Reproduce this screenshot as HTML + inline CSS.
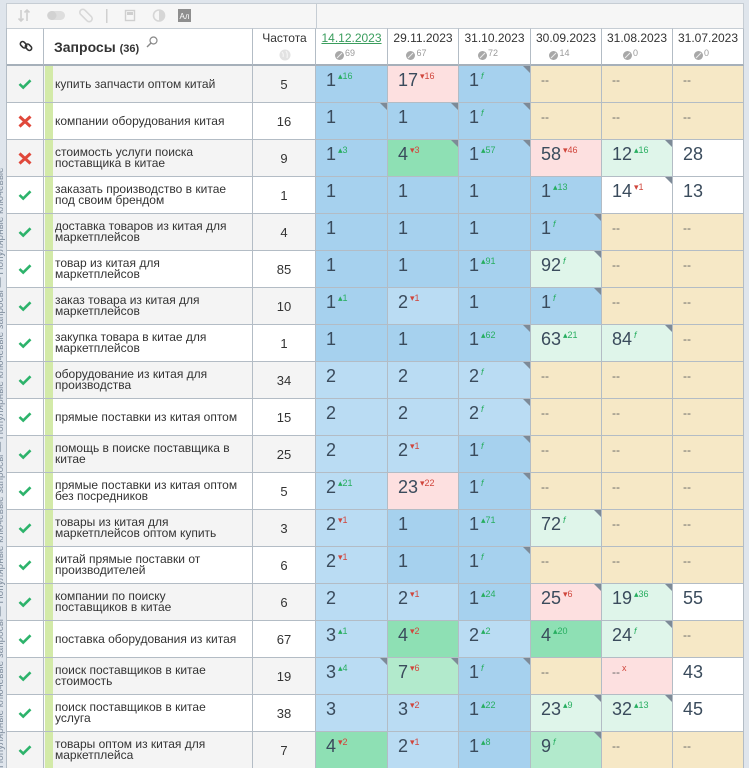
<!DOCTYPE html>
<html>
<head>
<meta charset="utf-8">
<style>
html{margin:0;padding:0;width:749px;height:768px;overflow:hidden;}
body{margin:0;padding:0;width:749px;height:768px;overflow:hidden;background:#dfe5ec;position:relative;font-family:"Liberation Sans","DejaVu Sans",sans-serif;color:#333;}
.strip{position:absolute;left:0;top:30px;width:6px;height:738px;overflow:hidden;}
.strip div{writing-mode:vertical-rl;transform:rotate(180deg);font-size:10px;line-height:10px;color:#8290a0;margin-left:-4px;white-space:nowrap;height:738px;width:10px;overflow:hidden;}
.tb{position:absolute;left:6px;top:3px;width:738px;height:26px;box-sizing:border-box;background:#f6f6f6;border:1px solid #c6cdd4;}
.tbdiv{position:absolute;left:316px;top:3px;width:1px;height:26px;background:#c6cdd4;}
.hdr{position:absolute;left:6px;top:28px;width:738px;height:38px;display:flex;background:#fff;}
.hc{box-sizing:border-box;height:38px;border-right:1px solid #b3bcc5;border-bottom:2px solid #a6b0ba;border-top:1px solid #c6cdd4;position:relative;flex:none;}
.row{position:absolute;left:6px;width:738px;height:37px;display:flex;overflow:hidden;}
.c{box-sizing:border-box;height:37px;border-right:1px solid #b3bcc5;border-bottom:1px solid #b3bcc5;position:relative;flex:none;background:#fff;}
.last .c{height:36px;border-bottom:none;}
.lk{width:38px;display:flex;align-items:center;justify-content:center;}
.q{width:209px;padding-left:11px;display:flex;align-items:center;font-size:12px;line-height:11px;color:#333;}
.q::before{content:"";position:absolute;left:1px;top:0;bottom:0;width:8px;background:#d3eaa8;}
.fr{width:63px;display:flex;align-items:center;justify-content:center;font-size:13px;color:#333;}
.o .lk,.o .q,.o .fr{background:#f4f4f4;}
.row .c:nth-child(n+4),.hdr .hc:nth-child(n+4){width:71px;}
.row .c:nth-child(4),.row .c:nth-child(6),.hdr .hc:nth-child(4),.hdr .hc:nth-child(6){width:72px;}
.row .c:nth-child(n+4){padding:5px 0 0 10px;font-size:18px;line-height:18px;color:#3a4b5c;white-space:nowrap;}
.b1{background:#a6d1ee !important;}
.b2{background:#badcf3 !important;}
.g1{background:#8ee0b4 !important;}
.g2{background:#b2eacc !important;}
.lg{background:#dff5ea !important;}
.p{background:#fde0e0 !important;}
.y{background:#f6e8c6 !important;}
.w{background:#fff !important;}
.t::after{content:"";position:absolute;top:0;right:0;width:0;height:0;border-top:7px solid #7d8a97;border-left:7px solid transparent;}
i{font-style:normal;display:inline-block;vertical-align:top;font-size:9px;line-height:9px;margin-left:2px;position:relative;top:1px;}
i.u{color:#27ae60;}
i.d{color:#d0463c;}
i.f{color:#27ae60;font-style:italic;}
i.x{color:#d0463c;}
.ds{font-size:12px;color:#666;position:relative;top:-2px;}
.dt{position:absolute;left:0;right:0;top:3px;text-align:center;font-size:12px;line-height:12px;color:#333;}
.dt.g{color:#3a9d5d;text-decoration:underline;}
.ic{position:absolute;left:0;right:13px;top:20px;text-align:center;font-size:0;line-height:0;white-space:nowrap;}
.ic b{display:inline-block;width:9px;height:9px;border-radius:50%;background:#a8a8a8;vertical-align:top;margin-top:2px;position:relative;}
.ic b::after{content:"";position:absolute;left:4px;top:1px;width:1px;height:7px;background:#eee;transform:rotate(45deg);}
.ic span{display:inline-block;font-size:9px;line-height:9px;color:#9a9a9a;margin-left:1px;vertical-align:top;}
</style>
</head>
<body>
<div class="strip"><div>Популярные ключевые запросы — Популярные ключевые запросы — Популярные ключевые запросы — Популярные ключевые</div></div>
<div class="tb"></div>
<div class="tbdiv"></div>
<svg style="position:absolute;left:0;top:0" width="316" height="30">
 <g stroke="#cfcfcf" stroke-width="1.6" fill="none">
  <path d="M21 10 L21 21 M18.5 18.5 L21 21 L23.5 18.5"/>
  <path d="M27 21 L27 10 M24.5 12.5 L27 10 L29.5 12.5"/>
 </g>
 <rect x="47" y="11" width="18" height="9" rx="4.5" fill="#dedede"/>
 <circle cx="52" cy="15.5" r="4.5" fill="#d2d2d2"/>
 <g stroke="#d8d8d8" stroke-width="1.6" fill="none">
  <rect x="83" y="8" width="6" height="15" rx="3" transform="rotate(-45 86 15.5)"/>
 </g>
 <rect x="106" y="9" width="1.5" height="14" fill="#d0d0d0"/>
 <rect x="125.5" y="10.5" width="9" height="10" fill="none" stroke="#cfcfcf" stroke-width="1.4"/>
 <rect x="127" y="12" width="6" height="3" fill="#cfcfcf"/>
 <circle cx="159" cy="15.5" r="5.5" fill="none" stroke="#d6d6d6" stroke-width="1.6"/>
 <path d="M159 10 A5.5 5.5 0 0 1 159 21 Z" fill="#d6d6d6"/>
 <rect x="178" y="9" width="13" height="13" fill="#8e8e8e"/>
 <text x="179.5" y="19" font-size="8" fill="#fff" font-family="Liberation Sans, sans-serif">Aл</text>
</svg>

<div class="hdr">
 <div class="hc" style="width:38px"></div>
 <div class="hc" style="width:209px"></div>
 <div class="hc" style="width:63px"></div>
 <div class="hc"><div class="dt g">14.12.2023</div><div class="ic"><b></b><span>69</span></div></div>
 <div class="hc"><div class="dt">29.11.2023</div><div class="ic"><b></b><span>67</span></div></div>
 <div class="hc"><div class="dt">31.10.2023</div><div class="ic"><b></b><span>72</span></div></div>
 <div class="hc"><div class="dt">30.09.2023</div><div class="ic"><b></b><span>14</span></div></div>
 <div class="hc"><div class="dt">31.08.2023</div><div class="ic"><b></b><span>0</span></div></div>
 <div class="hc"><div class="dt">31.07.2023</div><div class="ic"><b></b><span>0</span></div></div>
</div>
<svg style="position:absolute;left:19px;top:39px" width="14" height="14" viewBox="0 0 14 14">
 <g fill="none" stroke="#333" stroke-width="1.6">
  <rect x="1" y="3.5" width="7" height="4.5" rx="2.2" transform="rotate(45 4.5 5.75)"/>
  <rect x="6" y="6" width="7" height="4.5" rx="2.2" transform="rotate(45 9.5 8.25)"/>
 </g>
</svg>
<div style="position:absolute;left:54px;top:40px;font-size:14px;line-height:14px;font-weight:bold;color:#333;white-space:nowrap">Запросы <span style="font-size:11px">(36)</span></div>
<svg style="position:absolute;left:146px;top:36px" width="12" height="12" viewBox="0 0 12 12">
 <circle cx="7.5" cy="4.5" r="3.5" fill="none" stroke="#888" stroke-width="1.2"/>
 <path d="M5 7 L1 11" stroke="#888" stroke-width="1.4"/>
</svg>
<div style="position:absolute;left:253px;width:63px;top:32px;text-align:center;font-size:12px;line-height:12px;color:#333">Частота</div>
<svg style="position:absolute;left:279px;top:49px" width="12" height="12" viewBox="0 0 12 12">
 <circle cx="6" cy="6" r="5.5" fill="#e2e2e2"/>
 <path d="M3 3 Q5 5 4 8 M7 2 Q9 5 8 9" stroke="#f4f4f4" stroke-width="1.2" fill="none"/>
</svg>

<!-- Row 1 -->
<div class="row o" style="top:66px">
 <div class="c lk"><svg width="14" height="12" viewBox="0 0 14 12"><path d="M1.5 6 L5.2 9.6 L12.5 2.3" stroke="#2db36b" stroke-width="2.6" fill="none"/></svg></div>
 <div class="c q">купить запчасти оптом китай</div>
 <div class="c fr">5</div>
 <div class="c b1">1<i class="u">▴16</i></div>
 <div class="c p">17<i class="d">▾16</i></div>
 <div class="c b1 t">1<i class="f">f</i></div>
 <div class="c y"><span class="ds">--</span></div>
 <div class="c y"><span class="ds">--</span></div>
 <div class="c y"><span class="ds">--</span></div>
</div>
<!-- Row 2 -->
<div class="row" style="top:103px">
 <div class="c lk"><svg width="14" height="13" viewBox="0 0 14 13"><path d="M1.5 1.5 L12.5 11.5 M12.5 1.5 L1.5 11.5" stroke="#e0483a" stroke-width="3" fill="none"/></svg></div>
 <div class="c q">компании оборудования китая</div>
 <div class="c fr">16</div>
 <div class="c b1 t">1</div>
 <div class="c b1 t">1</div>
 <div class="c b1 t">1<i class="f">f</i></div>
 <div class="c y"><span class="ds">--</span></div>
 <div class="c y"><span class="ds">--</span></div>
 <div class="c y"><span class="ds">--</span></div>
</div>
<!-- Row 3 -->
<div class="row o" style="top:140px">
 <div class="c lk"><svg width="14" height="13" viewBox="0 0 14 13"><path d="M1.5 1.5 L12.5 11.5 M12.5 1.5 L1.5 11.5" stroke="#e0483a" stroke-width="3" fill="none"/></svg></div>
 <div class="c q">стоимость услуги поиска<br>поставщика в китае</div>
 <div class="c fr">9</div>
 <div class="c b1">1<i class="u">▴3</i></div>
 <div class="c g1 t">4<i class="d">▾3</i></div>
 <div class="c b1 t">1<i class="u">▴57</i></div>
 <div class="c p">58<i class="d">▾46</i></div>
 <div class="c lg t">12<i class="u">▴16</i></div>
 <div class="c w">28</div>
</div>
<!-- Row 4 -->
<div class="row" style="top:177px">
 <div class="c lk"><svg width="14" height="12" viewBox="0 0 14 12"><path d="M1.5 6 L5.2 9.6 L12.5 2.3" stroke="#2db36b" stroke-width="2.6" fill="none"/></svg></div>
 <div class="c q">заказать производство в китае<br>под своим брендом</div>
 <div class="c fr">1</div>
 <div class="c b1">1</div>
 <div class="c b1">1</div>
 <div class="c b1">1</div>
 <div class="c b1">1<i class="u">▴13</i></div>
 <div class="c w t">14<i class="d">▾1</i></div>
 <div class="c w">13</div>
</div>
<!-- Row 5 -->
<div class="row o" style="top:214px">
 <div class="c lk"><svg width="14" height="12" viewBox="0 0 14 12"><path d="M1.5 6 L5.2 9.6 L12.5 2.3" stroke="#2db36b" stroke-width="2.6" fill="none"/></svg></div>
 <div class="c q">доставка товаров из китая для<br>маркетплейсов</div>
 <div class="c fr">4</div>
 <div class="c b1">1</div>
 <div class="c b1">1</div>
 <div class="c b1">1</div>
 <div class="c b1 t">1<i class="f">f</i></div>
 <div class="c y"><span class="ds">--</span></div>
 <div class="c y"><span class="ds">--</span></div>
</div>
<!-- Row 6 -->
<div class="row" style="top:251px">
 <div class="c lk"><svg width="14" height="12" viewBox="0 0 14 12"><path d="M1.5 6 L5.2 9.6 L12.5 2.3" stroke="#2db36b" stroke-width="2.6" fill="none"/></svg></div>
 <div class="c q">товар из китая для<br>маркетплейсов</div>
 <div class="c fr">85</div>
 <div class="c b1">1</div>
 <div class="c b1">1</div>
 <div class="c b1">1<i class="u">▴91</i></div>
 <div class="c lg t">92<i class="f">f</i></div>
 <div class="c y"><span class="ds">--</span></div>
 <div class="c y"><span class="ds">--</span></div>
</div>
<!-- Row 7 -->
<div class="row o" style="top:288px">
 <div class="c lk"><svg width="14" height="12" viewBox="0 0 14 12"><path d="M1.5 6 L5.2 9.6 L12.5 2.3" stroke="#2db36b" stroke-width="2.6" fill="none"/></svg></div>
 <div class="c q">заказ товара из китая для<br>маркетплейсов</div>
 <div class="c fr">10</div>
 <div class="c b1">1<i class="u">▴1</i></div>
 <div class="c b2">2<i class="d">▾1</i></div>
 <div class="c b1">1</div>
 <div class="c b1 t">1<i class="f">f</i></div>
 <div class="c y"><span class="ds">--</span></div>
 <div class="c y"><span class="ds">--</span></div>
</div>
<!-- Row 8 -->
<div class="row" style="top:325px">
 <div class="c lk"><svg width="14" height="12" viewBox="0 0 14 12"><path d="M1.5 6 L5.2 9.6 L12.5 2.3" stroke="#2db36b" stroke-width="2.6" fill="none"/></svg></div>
 <div class="c q">закупка товара в китае для<br>маркетплейсов</div>
 <div class="c fr">1</div>
 <div class="c b1">1</div>
 <div class="c b1">1</div>
 <div class="c b1 t">1<i class="u">▴62</i></div>
 <div class="c lg">63<i class="u">▴21</i></div>
 <div class="c lg t">84<i class="f">f</i></div>
 <div class="c y"><span class="ds">--</span></div>
</div>
<!-- Row 9 -->
<div class="row o" style="top:362px">
 <div class="c lk"><svg width="14" height="12" viewBox="0 0 14 12"><path d="M1.5 6 L5.2 9.6 L12.5 2.3" stroke="#2db36b" stroke-width="2.6" fill="none"/></svg></div>
 <div class="c q">оборудование из китая для<br>производства</div>
 <div class="c fr">34</div>
 <div class="c b2">2</div>
 <div class="c b2">2</div>
 <div class="c b2 t">2<i class="f">f</i></div>
 <div class="c y"><span class="ds">--</span></div>
 <div class="c y"><span class="ds">--</span></div>
 <div class="c y"><span class="ds">--</span></div>
</div>
<!-- Row 10 -->
<div class="row" style="top:399px">
 <div class="c lk"><svg width="14" height="12" viewBox="0 0 14 12"><path d="M1.5 6 L5.2 9.6 L12.5 2.3" stroke="#2db36b" stroke-width="2.6" fill="none"/></svg></div>
 <div class="c q">прямые поставки из китая оптом</div>
 <div class="c fr">15</div>
 <div class="c b2">2</div>
 <div class="c b2">2</div>
 <div class="c b2 t">2<i class="f">f</i></div>
 <div class="c y"><span class="ds">--</span></div>
 <div class="c y"><span class="ds">--</span></div>
 <div class="c y"><span class="ds">--</span></div>
</div>
<!-- Row 11 -->
<div class="row o" style="top:436px">
 <div class="c lk"><svg width="14" height="12" viewBox="0 0 14 12"><path d="M1.5 6 L5.2 9.6 L12.5 2.3" stroke="#2db36b" stroke-width="2.6" fill="none"/></svg></div>
 <div class="c q">помощь в поиске поставщика в<br>китае</div>
 <div class="c fr">25</div>
 <div class="c b2">2</div>
 <div class="c b2">2<i class="d">▾1</i></div>
 <div class="c b1 t">1<i class="f">f</i></div>
 <div class="c y"><span class="ds">--</span></div>
 <div class="c y"><span class="ds">--</span></div>
 <div class="c y"><span class="ds">--</span></div>
</div>
<!-- Row 12 -->
<div class="row" style="top:473px">
 <div class="c lk"><svg width="14" height="12" viewBox="0 0 14 12"><path d="M1.5 6 L5.2 9.6 L12.5 2.3" stroke="#2db36b" stroke-width="2.6" fill="none"/></svg></div>
 <div class="c q">прямые поставки из китая оптом<br>без посредников</div>
 <div class="c fr">5</div>
 <div class="c b2">2<i class="u">▴21</i></div>
 <div class="c p">23<i class="d">▾22</i></div>
 <div class="c b1 t">1<i class="f">f</i></div>
 <div class="c y"><span class="ds">--</span></div>
 <div class="c y"><span class="ds">--</span></div>
 <div class="c y"><span class="ds">--</span></div>
</div>
<!-- Row 13 -->
<div class="row o" style="top:510px">
 <div class="c lk"><svg width="14" height="12" viewBox="0 0 14 12"><path d="M1.5 6 L5.2 9.6 L12.5 2.3" stroke="#2db36b" stroke-width="2.6" fill="none"/></svg></div>
 <div class="c q">товары из китая для<br>маркетплейсов оптом купить</div>
 <div class="c fr">3</div>
 <div class="c b2">2<i class="d">▾1</i></div>
 <div class="c b1">1</div>
 <div class="c b1">1<i class="u">▴71</i></div>
 <div class="c lg t">72<i class="f">f</i></div>
 <div class="c y"><span class="ds">--</span></div>
 <div class="c y"><span class="ds">--</span></div>
</div>
<!-- Row 14 -->
<div class="row" style="top:547px">
 <div class="c lk"><svg width="14" height="12" viewBox="0 0 14 12"><path d="M1.5 6 L5.2 9.6 L12.5 2.3" stroke="#2db36b" stroke-width="2.6" fill="none"/></svg></div>
 <div class="c q">китай прямые поставки от<br>производителей</div>
 <div class="c fr">6</div>
 <div class="c b2">2<i class="d">▾1</i></div>
 <div class="c b1">1</div>
 <div class="c b1 t">1<i class="f">f</i></div>
 <div class="c y"><span class="ds">--</span></div>
 <div class="c y"><span class="ds">--</span></div>
 <div class="c y"><span class="ds">--</span></div>
</div>
<!-- Row 15 -->
<div class="row o" style="top:584px">
 <div class="c lk"><svg width="14" height="12" viewBox="0 0 14 12"><path d="M1.5 6 L5.2 9.6 L12.5 2.3" stroke="#2db36b" stroke-width="2.6" fill="none"/></svg></div>
 <div class="c q">компании по поиску<br>поставщиков в китае</div>
 <div class="c fr">6</div>
 <div class="c b2">2</div>
 <div class="c b2">2<i class="d">▾1</i></div>
 <div class="c b1">1<i class="u">▴24</i></div>
 <div class="c p t">25<i class="d">▾6</i></div>
 <div class="c lg t">19<i class="u">▴36</i></div>
 <div class="c w">55</div>
</div>
<!-- Row 16 -->
<div class="row" style="top:621px">
 <div class="c lk"><svg width="14" height="12" viewBox="0 0 14 12"><path d="M1.5 6 L5.2 9.6 L12.5 2.3" stroke="#2db36b" stroke-width="2.6" fill="none"/></svg></div>
 <div class="c q">поставка оборудования из китая</div>
 <div class="c fr">67</div>
 <div class="c b2">3<i class="u">▴1</i></div>
 <div class="c g1">4<i class="d">▾2</i></div>
 <div class="c b2">2<i class="u">▴2</i></div>
 <div class="c g1">4<i class="u">▴20</i></div>
 <div class="c lg t">24<i class="f">f</i></div>
 <div class="c y"><span class="ds">--</span></div>
</div>
<!-- Row 17 -->
<div class="row o" style="top:658px">
 <div class="c lk"><svg width="14" height="12" viewBox="0 0 14 12"><path d="M1.5 6 L5.2 9.6 L12.5 2.3" stroke="#2db36b" stroke-width="2.6" fill="none"/></svg></div>
 <div class="c q">поиск поставщиков в китае<br>стоимость</div>
 <div class="c fr">19</div>
 <div class="c b2 t">3<i class="u">▴4</i></div>
 <div class="c g2 t">7<i class="d">▾6</i></div>
 <div class="c b1 t">1<i class="f">f</i></div>
 <div class="c y"><span class="ds">--</span></div>
 <div class="c p"><span class="ds">--</span><i class="x">x</i></div>
 <div class="c w">43</div>
</div>
<!-- Row 18 -->
<div class="row" style="top:695px">
 <div class="c lk"><svg width="14" height="12" viewBox="0 0 14 12"><path d="M1.5 6 L5.2 9.6 L12.5 2.3" stroke="#2db36b" stroke-width="2.6" fill="none"/></svg></div>
 <div class="c q">поиск поставщиков в китае<br>услуга</div>
 <div class="c fr">38</div>
 <div class="c b2">3</div>
 <div class="c b2">3<i class="d">▾2</i></div>
 <div class="c b1">1<i class="u">▴22</i></div>
 <div class="c lg t">23<i class="u">▴9</i></div>
 <div class="c lg t">32<i class="u">▴13</i></div>
 <div class="c w">45</div>
</div>
<!-- Row 19 -->
<div class="row o last" style="top:732px;height:36px">
 <div class="c lk"><svg width="14" height="12" viewBox="0 0 14 12"><path d="M1.5 6 L5.2 9.6 L12.5 2.3" stroke="#2db36b" stroke-width="2.6" fill="none"/></svg></div>
 <div class="c q">товары оптом из китая для<br>маркетплейса</div>
 <div class="c fr">7</div>
 <div class="c g1">4<i class="d">▾2</i></div>
 <div class="c b2">2<i class="d">▾1</i></div>
 <div class="c b1">1<i class="u">▴8</i></div>
 <div class="c g2 t">9<i class="f">f</i></div>
 <div class="c y"><span class="ds">--</span></div>
 <div class="c y"><span class="ds">--</span></div>
</div>

<div style="position:absolute;left:6px;top:28px;width:1px;height:740px;background:#b3bcc5"></div>
</body>
</html>
